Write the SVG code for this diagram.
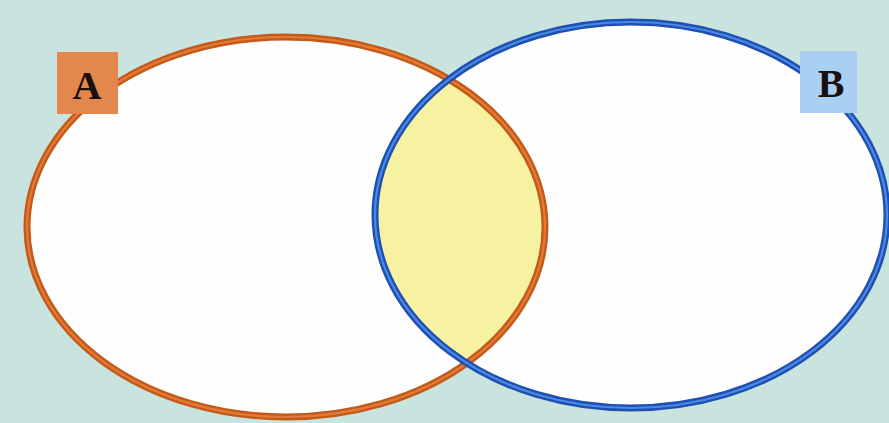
<svg xmlns="http://www.w3.org/2000/svg" width="889" height="423" viewBox="0 0 889 423">
<style>
.lbl{font-family:"Liberation Serif","DejaVu Serif",serif;font-weight:bold;font-size:40px;fill:#1a1010;text-anchor:middle}
.oa{fill:none;stroke:#c35a1a;stroke-width:7}
.oi{fill:none;stroke:#e47a35;stroke-width:2.2}
.ba{fill:none;stroke:#1f4fb0;stroke-width:7}
.bi{fill:none;stroke:#4a8ae6;stroke-width:2.2}
</style>
<defs>
<clipPath id="clipA"><ellipse cx="286" cy="227" rx="259" ry="190"/></clipPath>
</defs>
<rect width="889" height="423" fill="#c9e3df"/>
<g id="fills">
<ellipse cx="286" cy="227" rx="259" ry="190" fill="#fefefe"/>
<ellipse cx="631" cy="215" rx="256" ry="193" fill="#fefefe"/>
<ellipse cx="631" cy="215" rx="256" ry="193" fill="#f7f2a2" clip-path="url(#clipA)"/>
</g>
<g id="setA">
<ellipse class="oa" cx="286" cy="227" rx="259" ry="190"/>
<ellipse class="oi" cx="286" cy="227" rx="259" ry="190"/>
</g>
<g id="setB">
<ellipse class="ba" cx="631" cy="215" rx="256" ry="193"/>
<ellipse class="bi" cx="631" cy="215" rx="256" ry="193"/>
</g>
<g id="labelA">
<rect x="57" y="52" width="61" height="62" fill="#e3874d"/>
<text class="lbl" x="87" y="99">A</text>
</g>
<g id="labelB">
<rect x="800" y="51" width="57" height="62" fill="#a9d0f2"/>
<text class="lbl" x="831" y="97">B</text>
</g>
</svg>
